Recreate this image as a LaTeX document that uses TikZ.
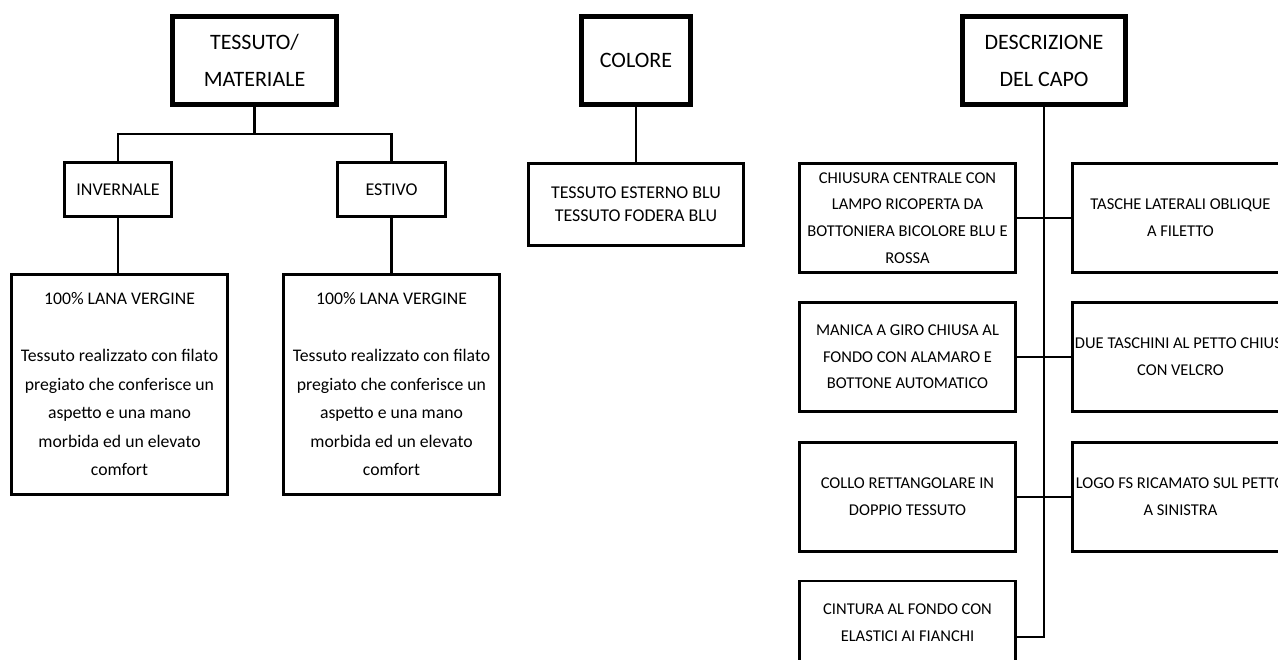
\documentclass[tikz,border=0pt]{standalone}
\usepackage{fontspec}
\setmainfont{Carlito}
\begin{document}
\begin{tikzpicture}[x=1pt,y=-1pt,
  thickbox/.style={draw=black,line width=5pt,inner sep=0pt,align=center,
    font=\fontsize{22}{37}\selectfont},
  thinbox/.style={draw=black,line width=2.6pt,inner sep=0pt,align=center},
  smalltxt/.style={font=\fontsize{18}{23}\selectfont},
  lanatxt/.style={font=\fontsize{17.7}{28.5}\selectfont},
  desctxt/.style={font=\fontsize{16.5}{26.6}\selectfont},
  conn/.style={draw=black,line width=2.6pt}]
\useasboundingbox (0,0) rectangle (1278,660);
\clip (0,0) rectangle (1278,660);
\fill[white] (0,0) rectangle (1278,660);

% Column 1
\node[thickbox,minimum width=164pt,minimum height=88pt] (tm) at (254.5,60.5) {TESSUTO/\\MATERIALE};
\node[thinbox,smalltxt,minimum width=107pt,minimum height=54pt] (inv) at (118,189.5) {INVERNALE};
\node[thinbox,smalltxt,minimum width=108pt,minimum height=54pt] (est) at (391.5,189.5) {ESTIVO};
\node[thinbox,lanatxt,minimum width=216pt,minimum height=220pt] (lana1) at (119.5,384.5)
  {100\% LANA VERGINE\\[28.5pt]Tessuto realizzato con filato\\pregiato che conferisce un\\aspetto e una mano\\morbida ed un elevato\\comfort};
\node[thinbox,lanatxt,minimum width=216pt,minimum height=220pt] (lana2) at (391.5,384.5)
  {100\% LANA VERGINE\\[28.5pt]Tessuto realizzato con filato\\pregiato che conferisce un\\aspetto e una mano\\morbida ed un elevato\\comfort};
\coordinate (tmj) at (254.5,134);
\draw[conn] (tm.south) -- (tmj);
\draw[conn] (inv.north) |- (tmj) -| (est.north);
\draw[conn] (inv.south) -- (inv.south |- lana1.north);
\draw[conn] (est.south) -- (est.south |- lana2.north);

% Column 2
\node[thickbox,minimum width=109pt,minimum height=88pt] (col) at (636,60.5) {COLORE};
\node[thinbox,smalltxt,minimum width=215pt,minimum height=82pt] (tess) at (636,204.5)
  {TESSUTO ESTERNO BLU\\TESSUTO FODERA BLU};
\draw[conn] (col.south) -- (tess.north);

% Column 3
\node[thickbox,minimum width=163pt,minimum height=88pt] (desc) at (1044,60.5) {DESCRIZIONE\\DEL CAPO};
\node[thinbox,desctxt,minimum width=216pt,minimum height=109pt] (l1) at (907.5,218)
  {CHIUSURA CENTRALE CON\\LAMPO RICOPERTA DA\\BOTTONIERA BICOLORE BLU E\\ROSSA};
\node[thinbox,desctxt,minimum width=216pt,minimum height=109pt] (l2) at (907.5,357)
  {MANICA A GIRO CHIUSA AL\\FONDO CON ALAMARO E\\BOTTONE AUTOMATICO};
\node[thinbox,desctxt,minimum width=216pt,minimum height=109pt] (l3) at (907.5,497)
  {COLLO RETTANGOLARE IN\\DOPPIO TESSUTO};
\node[thinbox,desctxt,minimum width=216pt,minimum height=84pt] (l4) at (907.5,623)
  {CINTURA AL FONDO CON\\ELASTICI AI FIANCHI};
\node[thinbox,desctxt,minimum width=216pt,minimum height=109pt] (r1) at (1180.5,218)
  {TASCHE LATERALI OBLIQUE\\A FILETTO};
\node[thinbox,desctxt,minimum width=216pt,minimum height=109pt] (r2) at (1180.5,357)
  {DUE TASCHINI AL PETTO CHIUSI\\CON VELCRO};
\node[thinbox,desctxt,minimum width=216pt,minimum height=109pt] (r3) at (1180.5,497)
  {LOGO FS RICAMATO SUL PETTO\\A SINISTRA};
\coordinate (dend) at (1044,637);
\draw[conn] (desc.south) -- (dend) -- (dend -| l4.east);
\draw[conn] (l1.east) -- (r1.west);
\draw[conn] (l2.east) -- (r2.west);
\draw[conn] (l3.east) -- (r3.west);
\end{tikzpicture}
\end{document}
